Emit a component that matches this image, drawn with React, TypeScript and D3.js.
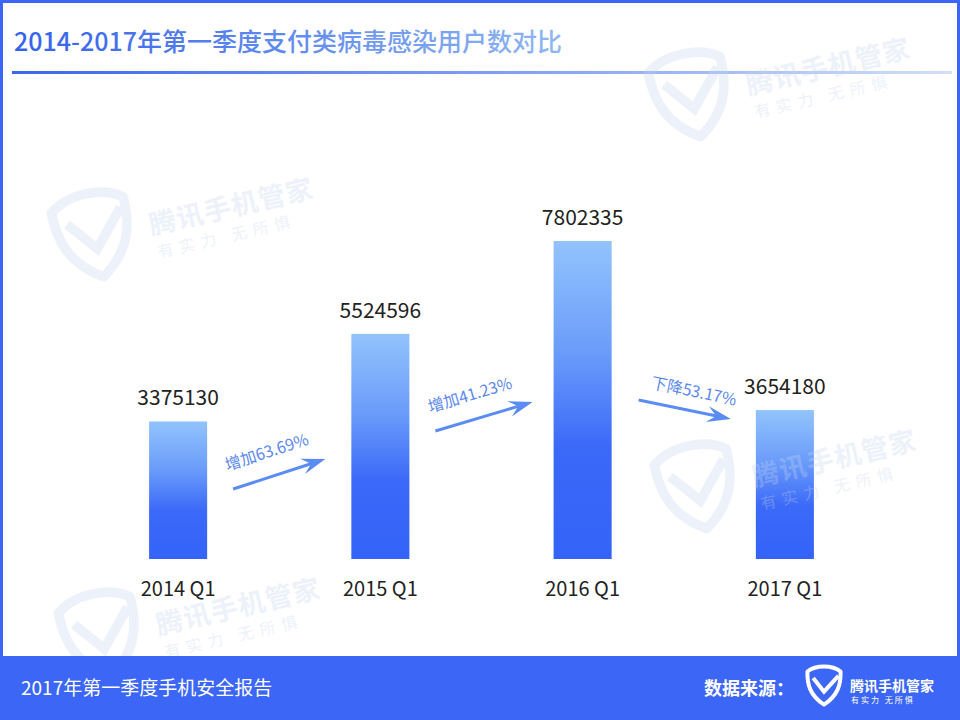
import React from "react";
import * as d3 from "d3";

const categories = ["2014 Q1", "2015 Q1", "2016 Q1", "2017 Q1"];
const values = [3375130, 5524596, 7802335, 3654180];
const changeLabels = ["增加63.69%", "增加41.23%", "下降53.17%"];
const titleText = "2014-2017年第一季度支付类病毒感染用户数对比";
const footerLeft = "2017年第一季度手机安全报告";
const footerSource = "数据来源：";
const brandName = "腾讯手机管家";
const brandSlogan = "有实力  无所惧";

const W = 960;
const H = 720;
const FONT = "'Noto Sans CJK SC', 'Noto Sans', sans-serif";
const BLUE = "#3b66f6";

// annotation arrow layout (start/end y in px)
const arrowLayout = [
  { y0: 489, y1: 459, gapL: 26, gapR: 26 },
  { y0: 431, y1: 402, gapL: 26, gapR: 21 },
  { y0: 400, y1: 419, gapL: 27, gapR: 25 },
];
const watermarkAnchors = [
  [642, 60],
  [45, 200],
  [648, 452],
  [52, 600],
];

const SHIELD =
  "M50,4 C70,4 86,10 96,18 C97,52 90,84 50,110 C10,84 3,52 4,18 C14,10 30,4 50,4 Z";
const CHECK = "M20,36 L50,74 L90,30";

function Shield({ stroke, sw, scale }: { stroke: string; sw: number; scale: number }) {
  return (
    <g transform={`scale(${scale})`}>
      <path d={SHIELD} fill="none" stroke={stroke} strokeWidth={sw} strokeLinejoin="round" />
      <path d={CHECK} fill="none" stroke={stroke} strokeWidth={sw} strokeLinejoin="miter" strokeLinecap="butt" />
    </g>
  );
}

function Watermark({ x, y }: { x: number; y: number }) {
  return (
    <g transform={`translate(${x},${y}) rotate(-13)`} opacity={0.3} fill="#c6d4f0">
      <Shield stroke="#c6d4f0" sw={12} scale={0.8} />
      <text x={96} y={58} fontSize={27} fontWeight={700} fontFamily={FONT} letterSpacing={1}>
        {brandName}
      </text>
      <text x={98} y={82} fontSize={16} fontFamily={FONT} letterSpacing={6}>
        {brandSlogan}
      </text>
    </g>
  );
}

export default function App() {
  const x = d3
    .scaleBand<string>()
    .domain(categories)
    .range([77, 886])
    .paddingInner(0.713)
    .paddingOuter(0.3565);
  const y = d3.scaleLinear().domain([0, d3.max(values) as number]).range([559, 241]);
  const bw = x.bandwidth();

  const arrows = changeLabels.map((label, i) => {
    const a = arrowLayout[i];
    const x0 = (x(categories[i]) as number) + bw + a.gapL;
    const x1 = (x(categories[i + 1]) as number) - a.gapR;
    const ang = (Math.atan2(a.y1 - a.y0, x1 - x0) * 180) / Math.PI;
    return { label, x0, x1, y0: a.y0, y1: a.y1, ang };
  });

  return (
    <svg
      width={W}
      height={H}
      style={{ display: "block", position: "absolute", left: 0, top: 0 }}
      viewBox={`0 0 ${W} ${H}`}
    >
      <defs>
        <linearGradient id="barGrad" x1="0" y1="0" x2="0" y2="1">
          <stop offset="0" stopColor="#92c3fc" />
          <stop offset="0.35" stopColor="#6a9cfa" />
          <stop offset="0.65" stopColor="#3b69f8" />
          <stop offset="1" stopColor="#3363f8" />
        </linearGradient>
        <linearGradient id="titleGrad" gradientUnits="userSpaceOnUse" x1="14" y1="0" x2="560" y2="0">
          <stop offset="0" stopColor="#3461ea" />
          <stop offset="1" stopColor="#8fb6f2" />
        </linearGradient>
        <linearGradient id="ruleGrad" gradientUnits="userSpaceOnUse" x1="12" y1="0" x2="952" y2="0">
          <stop offset="0" stopColor="#3c66ec" />
          <stop offset="0.6" stopColor="#8aa8f4" />
          <stop offset="1" stopColor="#d3defa" />
        </linearGradient>
      </defs>
      <rect x={0} y={0} width={W} height={H} fill="#ffffff" />

      {/* title */}
      <text x={14} y={51} fontSize={25} fontWeight={500} fontFamily={FONT} fill="url(#titleGrad)">
        {titleText}
      </text>
      <rect x={12} y={71} width={940} height={3} fill="url(#ruleGrad)" />

      {/* bars */}
      {categories.map((c, i) => (
        <g key={c}>
          <rect x={x(c)} y={y(values[i])} width={bw} height={y(0) - y(values[i])} fill="url(#barGrad)" />
          <text
            x={(x(c) as number) + bw / 2}
            y={y(values[i]) - 16}
            textAnchor="middle"
            fontSize={21}
            fontFamily={FONT}
            fill="#222"
          >
            {values[i]}
          </text>
          <text
            x={(x(c) as number) + bw / 2}
            y={596}
            textAnchor="middle"
            fontSize={20}
            fontFamily={FONT}
            fill="#222"
          >
            {c}
          </text>
        </g>
      ))}

      {/* arrows */}
      {arrows.map((a, i) => {
        const len = Math.hypot(a.x1 - a.x0, a.y1 - a.y0);
        return (
          <g key={i} transform={`translate(${a.x0},${a.y0}) rotate(${a.ang})`}>
            <line x1={0} y1={0} x2={len - 12} y2={0} stroke="#5b8cf3" strokeWidth={3} />
            <path d={`M${len},0 L${len - 24},-8 L${len - 15},0 L${len - 24},8 Z`} fill="#5b8cf3" />
            <text
              x={a.ang < 0 ? 0 : 9}
              y={a.ang < 0 ? -19 : -14}
              fontSize={16}
              fontFamily={FONT}
              fill="#5a88ee"
            >
              {a.label}
            </text>
          </g>
        );
      })}

      {/* watermarks */}
      {watermarkAnchors.map(([wx, wy], i) => (
        <Watermark key={i} x={wx} y={wy} />
      ))}

      {/* footer */}
      <rect x={0} y={656} width={W} height={64} fill={BLUE} />
      <text x={21} y={695} fontSize={19} fontFamily={FONT} fill="#fff">
        {footerLeft}
      </text>
      <text x={704} y={695} fontSize={18} fontWeight={700} fontFamily={FONT} fill="#fff">
        {footerSource}
      </text>
      <g transform="translate(806,665)">
        <Shield stroke="#fff" sw={11} scale={0.36} />
      </g>
      <text x={850} y={691} fontSize={14} fontWeight={700} fontFamily={FONT} fill="#fff">
        {brandName}
      </text>
      <text x={851} y={703} fontSize={8} fontFamily={FONT} fill="#fff" letterSpacing={2}>
        {brandSlogan}
      </text>

      {/* frame */}
      <rect x={1.5} y={1.5} width={W - 3} height={H - 3} fill="none" stroke={BLUE} strokeWidth={3} />
    </svg>
  );
}
